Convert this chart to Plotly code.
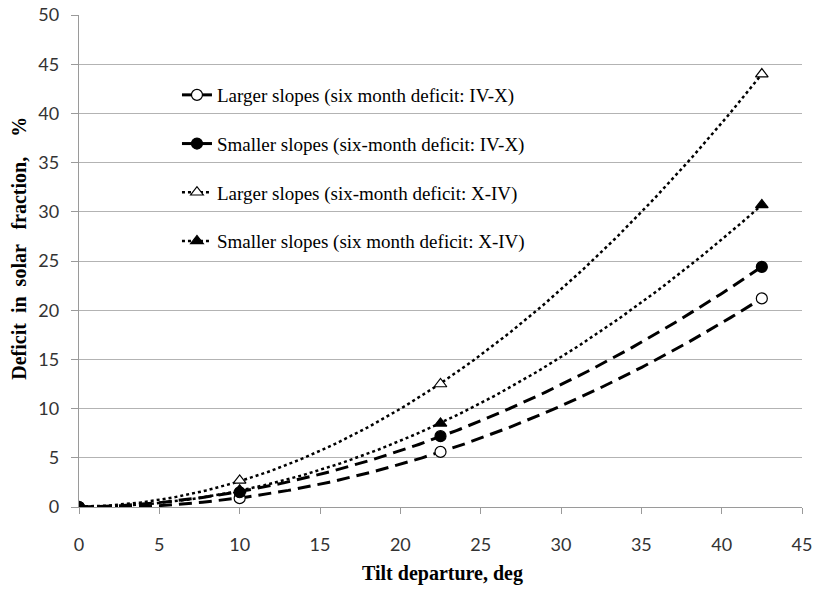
import numpy as np
import plotly.graph_objects as go

tilt = [0, 10, 22.5, 42.5]
larger_ivx = [0, 0.9, 5.6, 21.2]
smaller_ivx = [0, 1.5, 7.2, 24.4]
larger_xiv = [0, 2.7, 12.5, 44.0]
smaller_xiv = [0, 1.7, 8.5, 30.7]

names = [
    "Larger slopes (six month deficit: IV-X)",
    "Smaller slopes (six-month deficit: IV-X)",
    "Larger slopes (six-month deficit: X-IV)",
    "Smaller slopes (six month deficit: X-IV)",
]
series = [larger_ivx, smaller_ivx, larger_xiv, smaller_xiv]
symbols = ["circle-open", "circle", "triangle-up-open", "triangle-up"]
dashes = ["13px,7px", "13px,7px", "3px,3px", "3px,3px"]
widths = [3, 3, 2.5, 2.5]

fig = go.Figure()
xfit = np.linspace(0, max(tilt), 200)
for nm, ys, sym, dsh, w in zip(names, series, symbols, dashes, widths):
    coef = np.polyfit(tilt, ys, 2)
    fig.add_trace(go.Scatter(x=xfit, y=np.polyval(coef, xfit), mode="lines",
                             line=dict(color="black", width=w, dash=dsh),
                             showlegend=False, hoverinfo="skip"))
    is_open = sym.endswith("open")
    mk = dict(symbol=sym.replace("-open", ""), size=11,
              color="white" if is_open else "black",
              line=dict(color="black", width=1.2))
    fig.add_trace(go.Scatter(x=tilt, y=ys, mode="markers", marker=mk,
                             showlegend=False))
    fig.add_trace(go.Scatter(x=[None], y=[None], mode="lines+markers", name=nm,
                             marker=mk, legendgroup=nm,
                             line=dict(color="black", width=w,
                                       dash="solid" if "IV-X" in nm else "dot")))

nb = "\u00a0"
ytitle = f"<b>Deficit {nb}in {nb}solar {nb}{nb}fraction, {nb}{nb}{nb}%</b>"
xtitle = "<b>Tilt departure, deg</b>"

fig.add_annotation(text=ytitle, textangle=-90, xref="paper", yref="paper",
                   x=-0.083, y=0.527, xanchor="center", yanchor="middle",
                   showarrow=False, font=dict(family="Liberation Serif", size=20, color="black"))
fig.add_annotation(text=xtitle, xref="paper", yref="paper",
                   x=0.503, y=-0.136, xanchor="center", yanchor="middle",
                   showarrow=False, font=dict(family="Liberation Serif", size=20, color="black"))

fig.update_layout(
    width=815, height=589,
    margin=dict(l=79, r=13, t=15, b=82),
    paper_bgcolor="white", plot_bgcolor="white",
    font=dict(family="Liberation Serif", color="black"),
    legend=dict(x=0.1355, y=0.876, xanchor="left", yanchor="top",
                bgcolor="rgba(0,0,0,0)", font=dict(size=19, family="Liberation Serif"),
                tracegroupgap=21, itemwidth=30),
    xaxis=dict(range=[0, 45], tickvals=list(range(0, 50, 5)), showgrid=False,
               automargin=False,
               showline=True, linecolor="#9a9a9a", linewidth=1.3,
               ticks="outside", ticklen=6, tickcolor="#9a9a9a",
               ticklabelstandoff=15,
               tickfont=dict(family="Lato", size=18, color="#333"),
               zeroline=False),
    yaxis=dict(range=[0, 50], tickvals=list(range(0, 55, 5)), showgrid=True,
               automargin=False,
               gridcolor="#b3b3b3", gridwidth=1.3,
               showline=True, linecolor="#9a9a9a", linewidth=1.3,
               ticks="outside", ticklen=7, tickcolor="#9a9a9a",
               ticklabelstandoff=8,
               tickfont=dict(family="Lato", size=18, color="#333"),
               zeroline=False),
)
fig.write_html("out.html")
